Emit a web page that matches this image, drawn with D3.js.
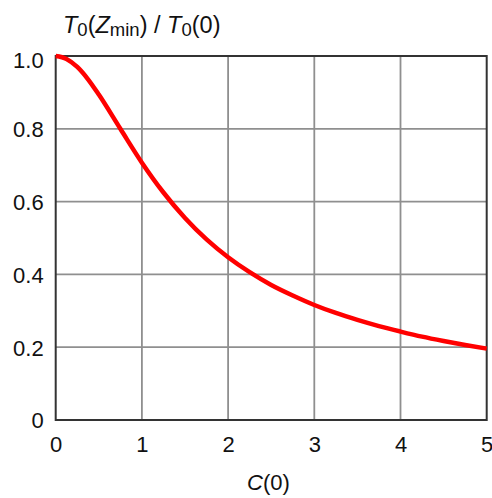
<!DOCTYPE html>
<html>
<head>
<meta charset="utf-8">
<script src="https://cdn.jsdelivr.net/npm/d3@7"></script>
<style>
  html, body { margin: 0; padding: 0; background: #fff; }
  text { font-family: "Liberation Sans", Arial, sans-serif; fill: #111; }
</style>
</head>
<body>
<svg id="chart" width="492" height="498"></svg>
<script>
// Normalised minimum temperature vs. initial concentration
const cValues = [0, 0.125, 0.25, 0.375, 0.5, 0.75, 1, 1.25, 1.5, 1.75, 2, 2.25, 2.5, 2.75, 3, 3.25, 3.5, 3.75, 4, 4.25, 4.5, 4.75, 5];
const ratioValues = [1.0, 0.992, 0.97, 0.936, 0.894, 0.80, 0.707, 0.625, 0.555, 0.496, 0.447, 0.406, 0.371, 0.342, 0.316, 0.294, 0.275, 0.258, 0.243, 0.229, 0.217, 0.206, 0.196];
const xTicks = [0, 1, 2, 3, 4, 5];
const yTicks = [0, 0.2, 0.4, 0.6, 0.8, 1.0];
const yTickLabels = ["0", "0.2", "0.4", "0.6", "0.8", "1.0"];

const svg = d3.select("#chart");
const plotLeft = 55.7, plotRight = 486.7, plotTop = 56, plotBottom = 420;
const fontFamily = "Liberation Sans, Arial, sans-serif";

const x = d3.scaleLinear().domain([0, 5]).range([plotLeft, plotRight]);
const y = d3.scaleLinear().domain([0, 1]).range([plotBottom, plotTop]);

// grid
const grid = svg.append("g");
grid.selectAll("line.vx").data(xTicks.slice(1, -1)).join("line")
  .attr("x1", d => x(d)).attr("x2", d => x(d))
  .attr("y1", plotTop).attr("y2", plotBottom)
  .attr("stroke", "#8f8f8f").attr("stroke-width", 1.8);
grid.selectAll("line.hy").data(yTicks.slice(1, -1)).join("line")
  .attr("x1", plotLeft).attr("x2", plotRight)
  .attr("y1", d => y(d)).attr("y2", d => y(d))
  .attr("stroke", "#8f8f8f").attr("stroke-width", 1.8);

// frame
svg.append("rect")
  .attr("x", plotLeft).attr("y", plotTop)
  .attr("width", plotRight - plotLeft).attr("height", plotBottom - plotTop)
  .attr("fill", "none").attr("stroke", "#333").attr("stroke-width", 2);

// tick labels via d3 axes (domain and tick marks hidden)
const xAxis = svg.append("g").attr("transform", `translate(0,${plotBottom})`)
  .call(d3.axisBottom(x).tickValues(xTicks).tickSize(0).tickPadding(16).tickFormat(d3.format("d")));
xAxis.select(".domain").remove();
xAxis.selectAll("text").attr("font-size", 22).attr("font-family", fontFamily).attr("fill", "#111").attr("dy", "0.72em");

const yAxis = svg.append("g").attr("transform", `translate(${plotLeft},0)`)
  .call(d3.axisLeft(y).tickValues(yTicks).tickSize(0).tickPadding(12).tickFormat((d, i) => yTickLabels[i]));
yAxis.select(".domain").remove();
yAxis.selectAll("text").attr("font-size", 22).attr("font-family", fontFamily).attr("fill", "#111")
  .attr("dy", d => d === 1 ? "0.5em" : "0.36em");

// curve
const line = d3.line()
  .x((d, i) => x(cValues[i]))
  .y(d => y(d))
  .curve(d3.curveMonotoneX);
svg.append("path")
  .datum(ratioValues)
  .attr("d", line)
  .attr("fill", "none")
  .attr("stroke", "#ff0000")
  .attr("stroke-width", 4.5)
  .attr("stroke-linecap", "butt");

// y title
const title = svg.append("text").attr("x", 63).attr("y", 33).attr("font-size", 23.5);
title.append("tspan").attr("font-style", "italic").text("T");
title.append("tspan").attr("font-size", 18.5).attr("dy", 3).text("0");
title.append("tspan").attr("dy", -3).text("(");
title.append("tspan").attr("font-style", "italic").text("Z");
title.append("tspan").attr("font-size", 18.5).attr("dy", 3).text("min");
title.append("tspan").attr("dy", -3).text(") / ");
title.append("tspan").attr("font-style", "italic").text("T");
title.append("tspan").attr("font-size", 18.5).attr("dy", 3).text("0");
title.append("tspan").attr("dy", -3).text("(0)");

// x title
const xt = svg.append("text").attr("x", 268.5).attr("y", 490).attr("font-size", 22).attr("text-anchor", "middle");
xt.append("tspan").attr("font-style", "italic").text("C");
xt.append("tspan").text("(0)");
</script>
</body>
</html>
